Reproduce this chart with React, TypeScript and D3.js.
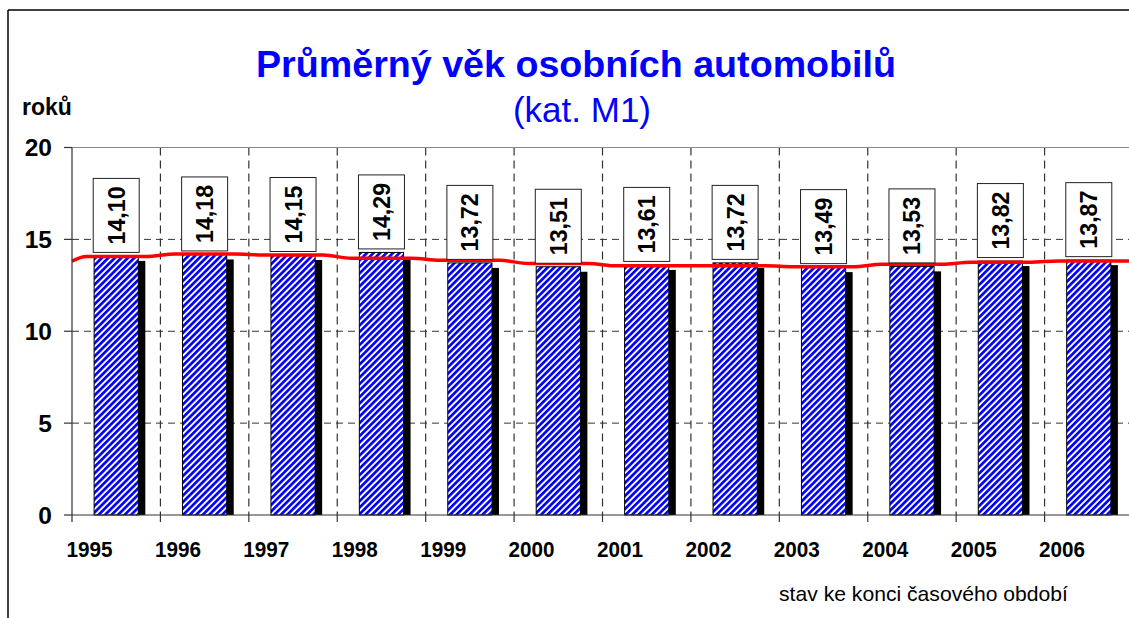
import React from 'react';
import * as d3 from 'd3';

// data
const years = ['1995', '1996', '1997', '1998', '1999', '2000', '2001', '2002', '2003', '2004', '2005', '2006'];
const avgAge = [14.10, 14.18, 14.15, 14.29, 13.72, 13.51, 13.61, 13.72, 13.49, 13.53, 13.82, 13.87];
const trend = [14.07, 14.20, 14.15, 13.97, 13.86, 13.69, 13.56, 13.56, 13.51, 13.64, 13.76, 13.82];
const trendStart = 13.82;
const yTicks = [0, 5, 10, 15, 20];

const W = 1129;
const H = 618;
const FONT = '"Liberation Sans", Arial, sans-serif';

export default function App() {
  const x = d3.scaleBand().domain(years).range([72, 1133]).padding(0);
  const y = d3.scaleLinear().domain([0, 20]).range([515, 147.5]);
  const bw = x.bandwidth();
  const barW = bw * 0.5;
  const fmt = (v: number) => d3.format('.2f')(v).replace('.', ',');

  // flat run over each bar, short smooth step between categories
  const pts: [number, number][] = [[x.range()[0], trendStart]];
  trend.forEach((v, i) => {
    const c = (x(years[i]) as number) + bw / 2;
    pts.push([c - 30, v], [c + 30, v]);
  });
  pts.push([x.range()[1], trend[trend.length - 1]]);
  const line = d3
    .line<[number, number]>()
    .x((d) => d[0])
    .y((d) => y(d[1]))
    .curve(d3.curveMonotoneX);

  const [x0, x1] = x.range();
  const bounds = years.map((yr) => x(yr) as number);

  return (
    <svg width={W} height={H} style={{ position: 'absolute', left: 0, top: 0, background: '#fff' }} fontFamily={FONT}>
      <defs>
        <pattern id="diag" width={4.6} height={4.6} patternUnits="userSpaceOnUse" patternTransform="rotate(45)">
          <rect width={4.6} height={4.6} fill="#ffffff" />
          <rect width={2.7} height={4.6} fill="#0000ff" />
        </pattern>
      </defs>

      {/* outer frame */}
      <line x1={8} y1={10} x2={W} y2={10} stroke="#000" strokeWidth={1.5} />
      <line x1={8} y1={10} x2={8} y2={H} stroke="#000" strokeWidth={1.5} />

      {/* titles */}
      <text x={576} y={77} textAnchor="middle" fontSize={37.5} fontWeight="bold" fill="#0000ff"
        textLength={640} lengthAdjust="spacingAndGlyphs">
        Průměrný věk osobních automobilů
      </text>
      <text x={582} y={122} textAnchor="middle" fontSize={35} fill="#0000ff">
        (kat. M1)
      </text>
      <text x={22} y={115} fontSize={23} fontWeight="bold" fill="#000">
        roků
      </text>

      {/* grid */}
      {yTicks.filter((t) => t > 0 && t < 20).map((t) => (
        <line key={'h' + t} x1={x0} x2={x1} y1={y(t)} y2={y(t)} stroke="#333" strokeWidth={1} strokeDasharray="7,5" />
      ))}
      {bounds.slice(1).map((b, i) => (
        <line key={'v' + i} x1={b} x2={b} y1={y(20)} y2={y(0)} stroke="#333" strokeWidth={1.2} strokeDasharray="8,5" />
      ))}
      <line x1={x0} x2={x1} y1={y(20)} y2={y(20)} stroke="#888" strokeWidth={1} />

      {/* shadows + bars */}
      {avgAge.map((v, i) => {
        const bx = (x(years[i]) as number) + bw * 0.25;
        return (
          <rect key={'s' + i} x={bx + 7} y={y(v) + 5} width={barW} height={y(0) - y(v) - 5} fill="#000" />
        );
      })}
      {avgAge.map((v, i) => {
        const bx = (x(years[i]) as number) + bw * 0.25;
        return (
          <rect key={'b' + i} x={bx} y={y(v)} width={barW} height={y(0) - y(v)} fill="url(#diag)" stroke="#000" strokeWidth={1} />
        );
      })}

      {/* trend line */}
      <path d={line(pts) as string} fill="none" stroke="#ff0000" strokeWidth={3.5} />

      {/* value labels */}
      {avgAge.map((v, i) => {
        const cx = (x(years[i]) as number) + bw / 2;
        const bottom = y(v) - 3.5;
        const bh = 74;
        const cy = bottom - bh / 2;
        return (
          <g key={'l' + i}>
            <rect x={cx - 23} y={bottom - bh} width={46} height={bh} fill="#fff" stroke="#222" strokeWidth={1} />
            <text
              transform={`translate(${cx},${cy}) rotate(-90)`}
              textAnchor="middle"
              dominantBaseline="central"
              fontSize={24}
              fontWeight="bold"
              fill="#000"
              textLength={58}
              lengthAdjust="spacingAndGlyphs"
            >
              {fmt(v)}
            </text>
          </g>
        );
      })}

      {/* y axis */}
      <line x1={x0} x2={x0} y1={y(20)} y2={y(0)} stroke="#333" strokeWidth={1.2} />
      {yTicks.map((t) => (
        <g key={'yt' + t}>
          <line x1={x0 - 8} x2={x0} y1={y(t)} y2={y(t)} stroke="#333" strokeWidth={1.2} />
          <text x={52} y={y(t)} textAnchor="end" dominantBaseline="central" fontSize={24.5} fontWeight="bold" fill="#000">
            {t}
          </text>
        </g>
      ))}

      {/* x axis */}
      <line x1={x0} x2={x1} y1={y(0)} y2={y(0)} stroke="#333" strokeWidth={1.2} />
      {bounds.map((b, i) => (
        <g key={'xt' + i}>
          <line x1={b} x2={b} y1={y(0)} y2={y(0) + 7} stroke="#333" strokeWidth={1.2} />
          <text x={b + 17.5} y={557} textAnchor="middle" fontSize={21.5} fontWeight="bold" fill="#000"
            textLength={46} lengthAdjust="spacingAndGlyphs">
            {years[i]}
          </text>
        </g>
      ))}

      <text x={779} y={601} fontSize={21} fill="#000" textLength={289} lengthAdjust="spacingAndGlyphs">
        stav ke konci časového období
      </text>
    </svg>
  );
}
